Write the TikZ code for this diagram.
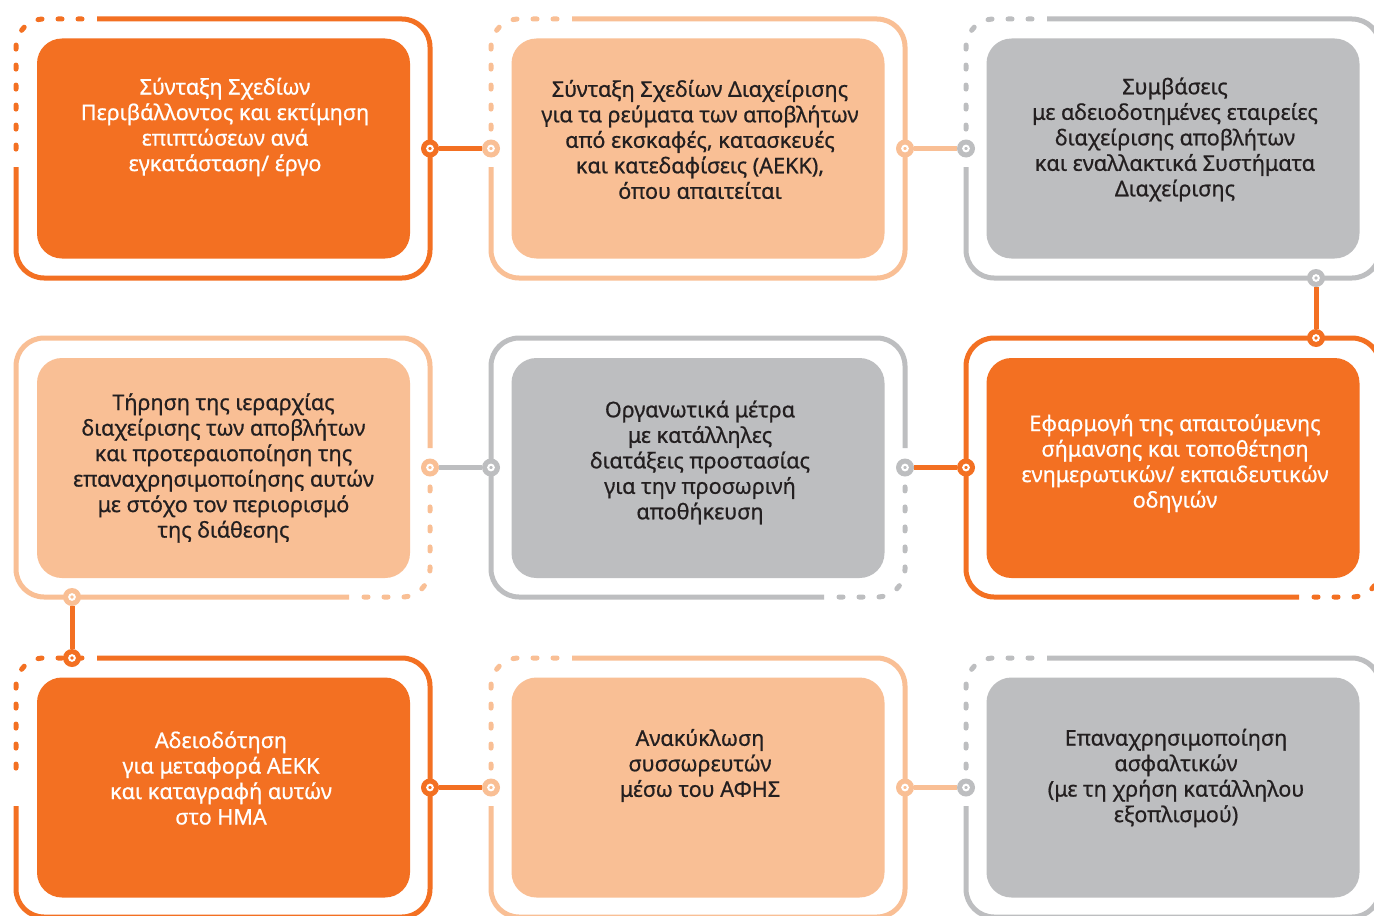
\documentclass[tikz,border=0pt]{standalone}
\usepackage{fontspec}
\setmainfont{Noto Sans}[FakeBold=0.7]
\definecolor{brandorange}{RGB}{243,112,34}
\definecolor{peach}{RGB}{249,191,149}
\definecolor{steel}{RGB}{189,190,192}
\definecolor{ink}{RGB}{35,31,32}
\tikzset{
  card/.style={fill=#1, rounded corners=12.5pt, minimum width=186.5pt, minimum height=110pt, inner sep=0pt},
  cardtext/.style={align=center, font=\fontsize{10.8}{12.75}\selectfont, text=#1},
  frame/.style={draw=#1, line width=2.5pt, rounded corners=14pt},
  gapped/.style={frame=#1, line cap=round, dash pattern=on 2pt off 8pt},
  knob/.style={circle, fill=#1, minimum size=9pt, inner sep=0pt,
    path picture={\draw[white, line width=1pt] (path picture bounding box.center) circle (1.4pt);}},
  link/.style={draw=#1, line width=2.5pt}
}
\begin{document}
\begin{tikzpicture}[x=0.5pt, y=-0.5pt]
        \useasboundingbox (0,0) rectangle (1374,915);
        \clip (0,0) rectangle (1374,915);
        \fill[white] (0,0) rectangle (1374,915);

        \draw[frame=brandorange] (16,167) -- (16,278) -- (430,278) -- (430,19) -- (97,19);
        \draw[gapped=brandorange] (82,19) -- (16,19) -- (16,155);
        \draw[frame=peach] (491,167) -- (491,278) -- (905,278) -- (905,19) -- (572,19);
        \draw[gapped=peach] (557,19) -- (491,19) -- (491,135);
        \draw[frame=steel] (966,167) -- (966,278) -- (1380,278) -- (1380,19) -- (1047,19);
        \draw[gapped=steel] (1032,19) -- (966,19) -- (966,135);

        \draw[frame=peach] (349,597) -- (16,597) -- (16,338) -- (430,338) -- (430,448);
        \draw[gapped=peach] (364,597) -- (430,597) -- (430,484);
        \draw[frame=steel] (824,597) -- (491,597) -- (491,338) -- (905,338) -- (905,448);
        \draw[gapped=steel] (839,597) -- (905,597) -- (905,484);
        \draw[frame=brandorange] (1299,597) -- (966,597) -- (966,338) -- (1380,338) -- (1380,448);
        \draw[gapped=brandorange] (1314,597) -- (1380,597) -- (1380,484);

        \draw[frame=brandorange] (16,806) -- (16,917) -- (430,917) -- (430,658) -- (97,658);
        \draw[gapped=brandorange] (82,658) -- (16,658) -- (16,774);
        \draw[frame=peach] (491,806) -- (491,917) -- (905,917) -- (905,658) -- (572,658);
        \draw[gapped=peach] (557,658) -- (491,658) -- (491,774);
        \draw[frame=steel] (966,806) -- (966,917) -- (1380,917) -- (1380,658) -- (1047,658);
        \draw[gapped=steel] (1032,658) -- (966,658) -- (966,774);

        \node[knob=brandorange] (plans-r) at (430,148.5) {};
        \node[knob=peach] (streams-l) at (491,148.5) {};
        \node[knob=peach] (streams-r) at (905,148.5) {};
        \node[knob=steel] (contracts-l) at (966,148.5) {};
        \node[knob=steel] (contracts-b) at (1316,278) {};
        \node[knob=brandorange] (signage-t) at (1316,338) {};
        \node[knob=brandorange] (signage-l) at (966,467.5) {};
        \node[knob=steel] (storage-r) at (905,467.5) {};
        \node[knob=steel] (storage-l) at (491,467.5) {};
        \node[knob=peach] (hierarchy-r) at (430,467.5) {};
        \node[knob=peach] (hierarchy-b) at (72,597) {};
        \node[knob=brandorange] (licensing-t) at (72,658) {};
        \node[knob=brandorange] (licensing-r) at (430,787.5) {};
        \node[knob=peach] (batteries-l) at (491,787.5) {};
        \node[knob=peach] (batteries-r) at (905,787.5) {};
        \node[knob=steel] (asphalt-l) at (966,787.5) {};

        \draw[link=brandorange] (plans-r) -- (streams-l);
        \draw[link=peach] (streams-r) -- (contracts-l);
        \draw[link=brandorange] (contracts-b) -- (signage-t);
        \draw[link=brandorange] (signage-l) -- (storage-r);
        \draw[link=steel] (storage-l) -- (hierarchy-r);
        \draw[link=brandorange] (hierarchy-b) -- (licensing-t);
        \draw[link=brandorange] (licensing-r) -- (batteries-l);
        \draw[link=peach] (batteries-r) -- (asphalt-l);

        \node[card=brandorange] (plans) at (223.5,148.5) {};
        \node[card=peach] (streams) at (698,148.5) {};
        \node[card=steel] (contracts) at (1173,148.5) {};
        \node[card=peach] (hierarchy) at (223.5,468) {};
        \node[card=steel] (storage) at (698,468) {};
        \node[card=brandorange] (signage) at (1173,468) {};
        \node[card=brandorange] (licensing) at (223.5,787.5) {};
        \node[card=peach] (batteries) at (698,787.5) {};
        \node[card=steel] (asphalt) at (1173,787.5) {};

        \node[cardtext=white] (plans-txt) at (225,127) {Σύνταξη Σχεδίων\\Περιβάλλοντος και εκτίμηση\\επιπτώσεων ανά\\εγκατάσταση/ έργο};
        \node[cardtext=ink] (streams-txt) at (700,139.5) {Σύνταξη Σχεδίων Διαχείρισης\\για τα ρεύματα των αποβλήτων\\από εκσκαφές, κατασκευές\\και κατεδαφίσεις (ΑΕΚΚ),\\όπου απαιτείται};
        \node[cardtext=ink] (contracts-txt) at (1175,139.5) {Συμβάσεις\\με αδειοδοτημένες εταιρείες\\διαχείρισης αποβλήτων\\και εναλλακτικά Συστήματα\\Διαχείρισης};
        \node[cardtext=ink] (hierarchy-txt) at (223.5,468) {Τήρηση της ιεραρχίας\\διαχείρισης των αποβλήτων\\και προτεραιοποίηση της\\επαναχρησιμοποίησης αυτών\\με στόχο τον περιορισμό\\της διάθεσης};
        \node[cardtext=ink] (storage-txt) at (700,462.5) {Οργανωτικά μέτρα\\με κατάλληλες\\διατάξεις προστασίας\\για την προσωρινή\\αποθήκευση};
        \node[cardtext=white] (signage-txt) at (1175,463.5) {Εφαρμογή της απαιτούμενης\\σήμανσης και τοποθέτηση\\ενημερωτικών/ εκπαιδευτικών\\οδηγιών};
        \node[cardtext=white] (licensing-txt) at (221,778) {Αδειοδότηση\\για μεταφορά ΑΕΚΚ\\και καταγραφή αυτών\\στο ΗΜΑ};
        \node[cardtext=ink] (batteries-txt) at (700,765.5) {Ανακύκλωση\\συσσωρευτών\\μέσω του ΑΦΗΣ};
        \node[cardtext=ink] (asphalt-txt) at (1176,778) {Επαναχρησιμοποίηση\\ασφαλτικών\\(με τη χρήση κατάλληλου\\εξοπλισμού)};
\end{tikzpicture}
\end{document}
